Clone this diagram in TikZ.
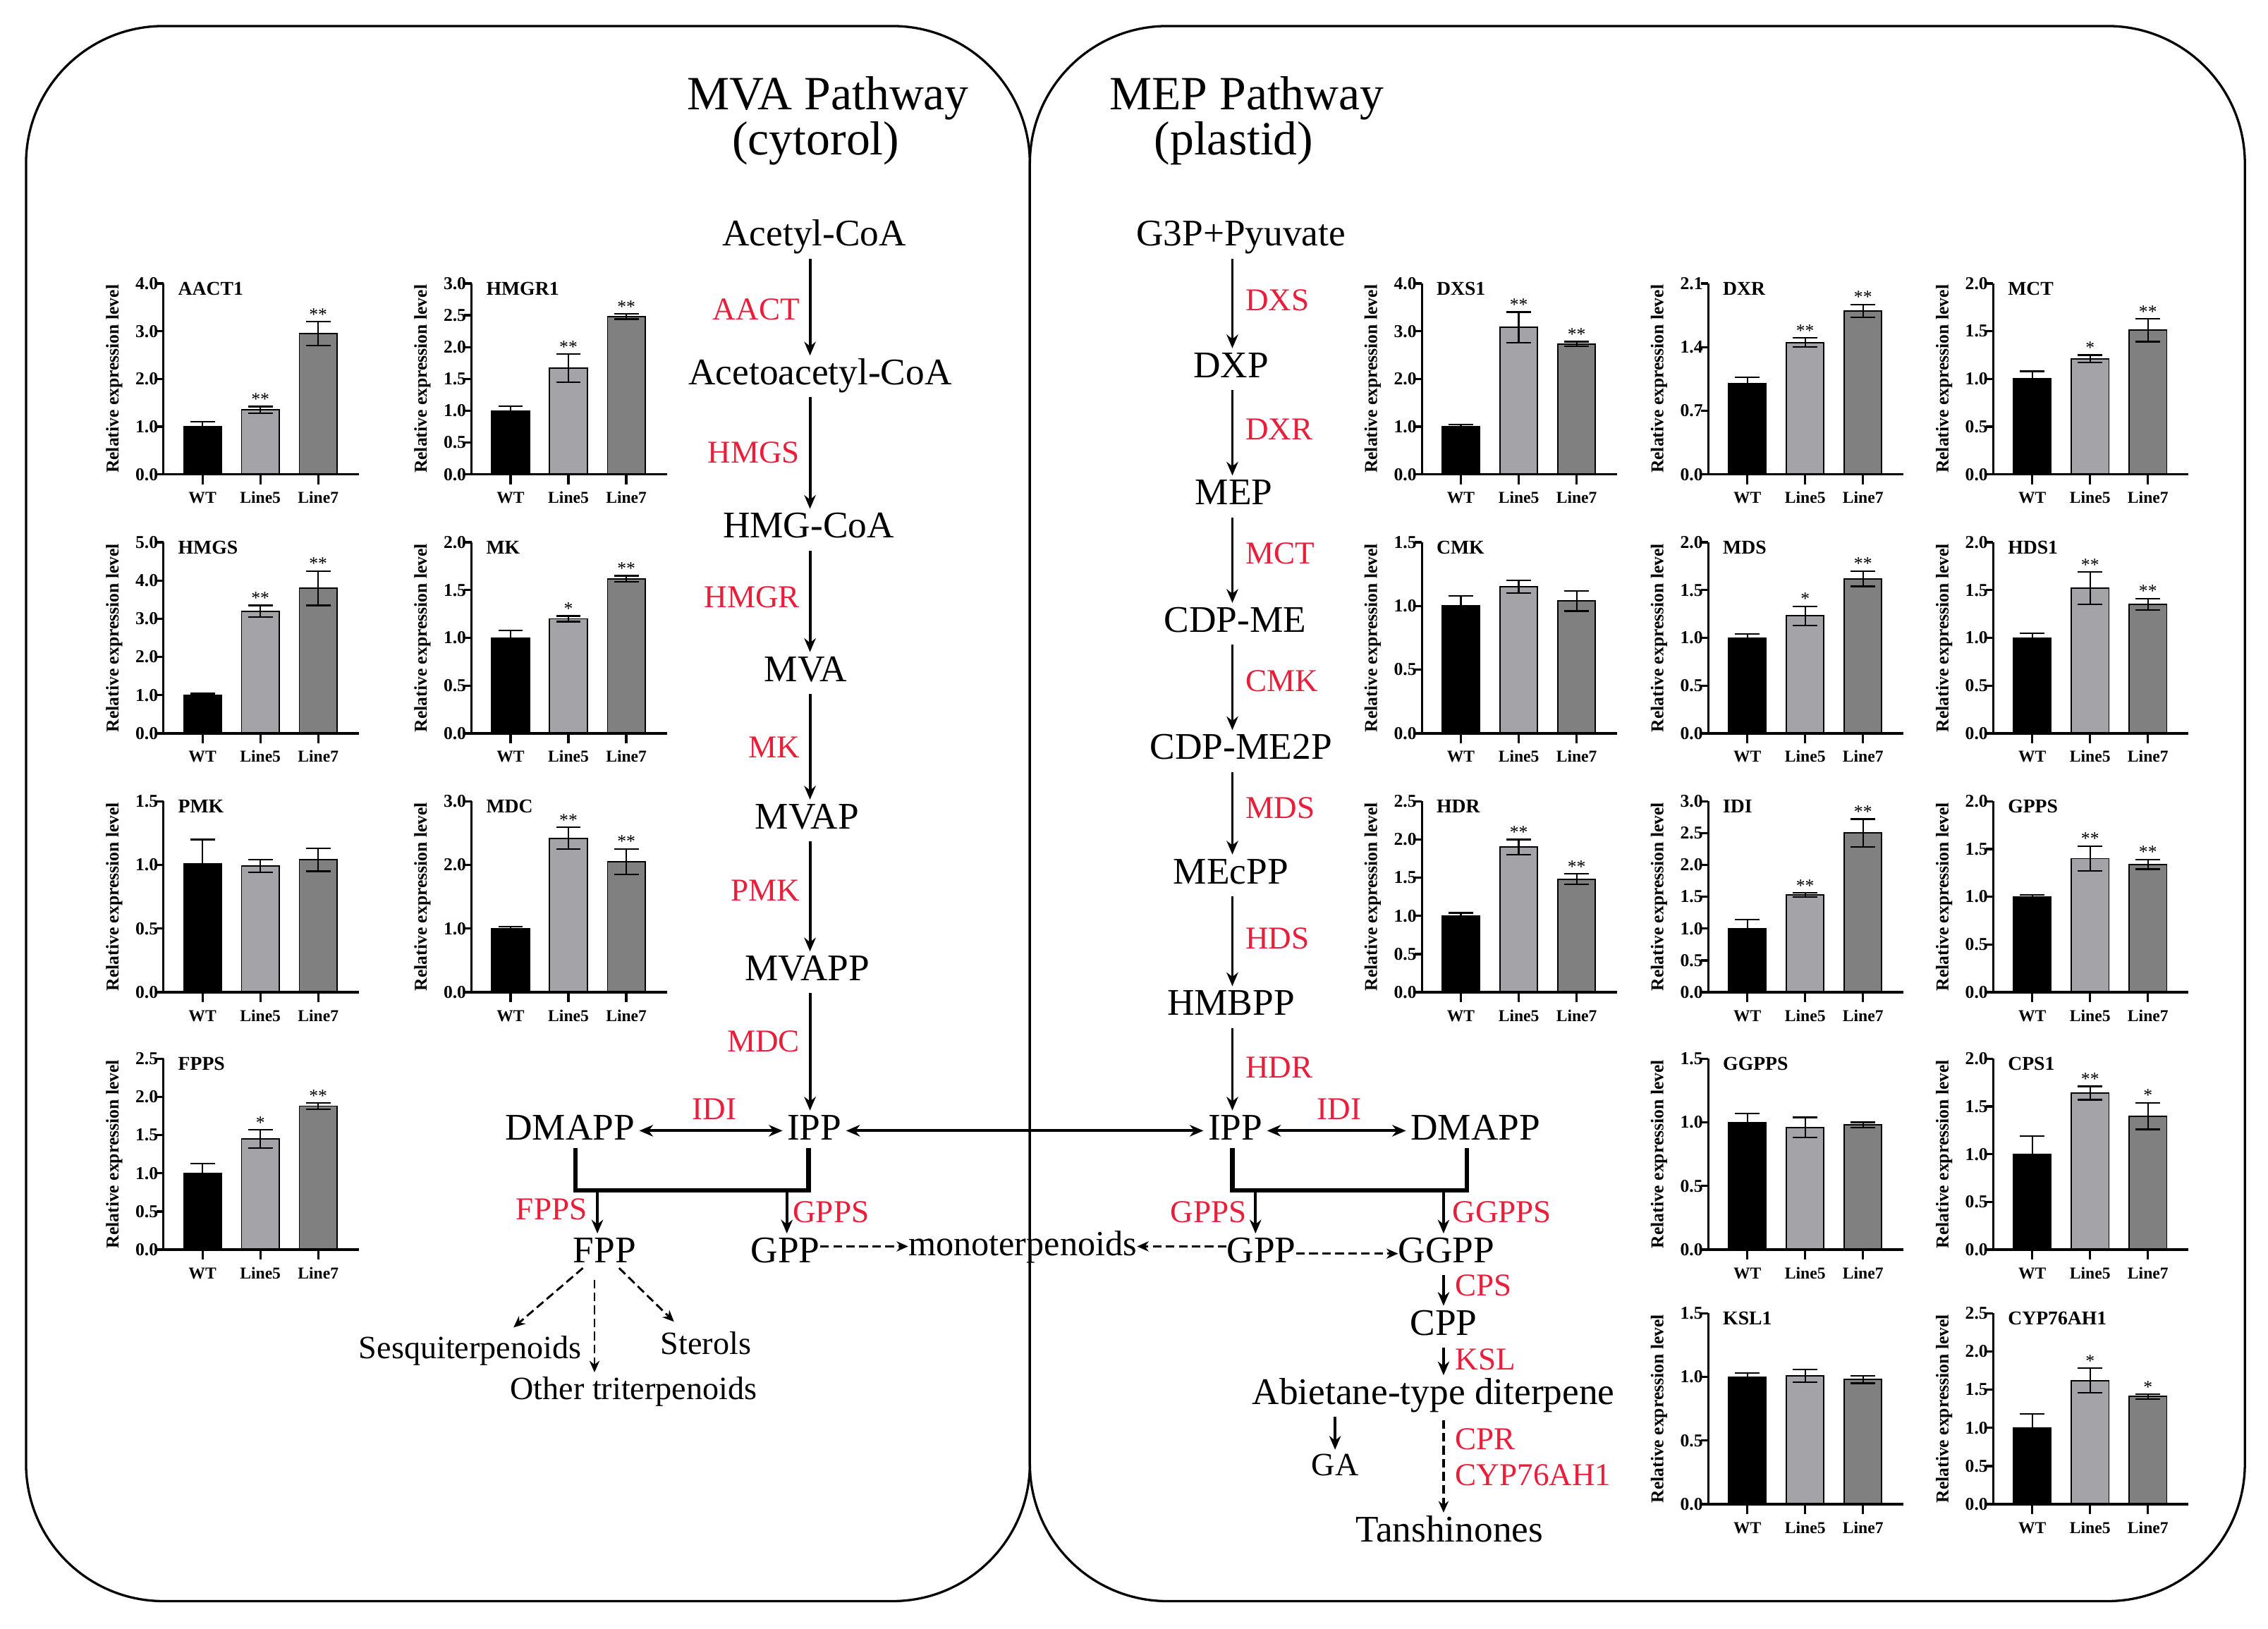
\documentclass[tikz,border=0pt]{standalone}
\usepackage{fontspec}
\setmainfont{Liberation Serif}
\usetikzlibrary{arrows.meta,calc}
\definecolor{enzred}{RGB}{233,30,58}
\definecolor{bar1}{RGB}{0,0,0}
\definecolor{bar2}{RGB}{163,163,168}
\definecolor{bar3}{RGB}{128,128,128}
\tikzset{
  met/.style={font=\fontsize{26}{30}\selectfont, inner sep=0pt, anchor=base, text height=18pt, text depth=5.5pt},
  met2/.style={font=\fontsize{22.5}{26}\selectfont, inner sep=0pt, anchor=base, text height=15.5pt, text depth=5pt},
  enz/.style={text=enzred, font=\fontsize{22}{26}\selectfont, inner sep=0pt},
  ttl/.style={font=\fontsize{33}{27}\selectfont, inner sep=0pt, anchor=base, align=center},
  arr/.style={-{Stealth[length=9.5pt,width=8pt]}, line width=1.9pt, shorten <=3pt, shorten >=2pt},
  darr/.style={{Stealth[length=9.5pt,width=8pt]}-{Stealth[length=9.5pt,width=8pt]}, line width=1.9pt, shorten <=3pt, shorten >=3pt},
  dsh/.style={-{Stealth[length=8pt,width=7pt]}, line width=1.6pt, dash pattern=on 6pt off 3pt},
  brk/.style={line width=3pt},
  panel/.style={line width=1.6pt, rounded corners=95pt},
  axisline/.style={line width=1.6pt},
  sig/.style={font=\fontsize{12.5}{12.5}\selectfont, anchor=base, inner sep=0pt},
  ticklab/.style={font=\bfseries\fontsize{12.5}{12.5}\selectfont, anchor=east, inner sep=0pt},
  catlab/.style={font=\bfseries\fontsize{11.5}{11.5}\selectfont, anchor=base, inner sep=0pt},
  charttitle/.style={font=\bfseries\fontsize{13.5}{13.5}\selectfont, anchor=base west, inner sep=0pt},
  ylab/.style={font=\bfseries\fontsize{12.5}{12.5}\selectfont, rotate=90, inner sep=0pt}
}
% #1 name, #2 axis x, #3 baseline y, #4 ymax, #5 ticks v/label, #6 bars i/value/err/star
\newcommand{\bchart}[6]{%
\begin{scope}[shift={(#2,#3)}]
\pgfmathsetmacro{\sc}{132/#4}
\foreach \i/\v/\e/\s in {#6}{%
  \pgfmathsetmacro{\cx}{27+40*(\i-1)}
  \pgfmathsetmacro{\hy}{\v*\sc}
  \pgfmathsetmacro{\ey}{\e*\sc}
  \filldraw[fill=bar\i, draw=black, line width=0.9pt] (\cx-13,0) rectangle (\cx+13,-\hy);
  \draw[line width=1.1pt] (\cx,-\hy+\ey) -- (\cx,-\hy-\ey)
     (\cx-8.5,-\hy-\ey) -- (\cx+8.5,-\hy-\ey)
     (\cx-8.5,-\hy+\ey) -- (\cx+8.5,-\hy+\ey);
  \node[sig] (#1-sig\i) at (\cx,-\hy-\ey-1) {\s};
  \draw[axisline] (\cx,0) -- (\cx,7);
}
\draw[axisline] (0,-132) -- (0,0) -- (135,0);
\foreach \v/\l [count=\k] in {#5}{%
  \draw[axisline] (0,-\v*\sc) -- (-5,-\v*\sc);
  \node[ticklab] (#1-tick\k) at (-3.5,-\v*\sc) {\l};
}
\node[catlab] (#1-cat1) at (27,20) {WT};
\node[catlab] (#1-cat2) at (67,20) {Line5};
\node[catlab] (#1-cat3) at (107,20) {Line7};
\node[charttitle] (#1-title) at (10,-124) {#1};
\node[ylab] (#1-ylab) at (-34,-66) {Relative expression level};
\end{scope}}

\begin{document}
\begin{tikzpicture}[x=1pt,y=-1pt]
\useasboundingbox (0,0) rectangle (1568,1126);

% panels
\draw[panel] (18,18) rectangle (712,1107);
\draw[panel] (712,18) rectangle (1552,1107);

% titles
\node[ttl] (mvaT) at (572.5,107) {MVA Pathway\\(cytorol)\hspace*{17pt}};
\node[ttl] (mepT) at (862,107) {MEP Pathway\\(plastid)\hspace*{18pt}};

% ---------- MVA pathway ----------
\coordinate (colA) at (560,0);
\node[met] (acetyl) at (563,170) {Acetyl-CoA};
\node[met] (acac) at (567,266) {Acetoacetyl-CoA};
\node[met] (hmgcoa) at (559,372) {HMG-CoA};
\node[met] (mva) at (557,471) {MVA};
\node[met] (mvap) at (558,573) {MVAP};
\node[met] (mvapp) at (558,678) {MVAPP};
\node[met] (ippL) at (563,788) {IPP};
\node[met] (dmappL) at (394,788) {DMAPP};
\node[met] (fpp) at (418,873) {FPP};
\node[met] (gppL) at (543,873) {GPP};
\node[met, font=\fontsize{24.5}{28}\selectfont] (mono) at (707,868) {monoterpenoids};
\node[met2] (sesq) at (325,939.5) {Sesquiterpenoids};
\node[met2] (sterols) at (488,936.5) {Sterols};
\node[met2] (othert) at (438,967.5) {Other triterpenoids};

\node[enz, anchor=base east] (eAACT) at (553,221) {AACT};
\node[enz, anchor=base east] (eHMGS) at (553,320) {HMGS};
\node[enz, anchor=base east] (eHMGR) at (553,420) {HMGR};
\node[enz, anchor=base east] (eMK) at (553,524) {MK};
\node[enz, anchor=base east] (ePMK) at (553,623) {PMK};
\node[enz, anchor=base east] (eMDC) at (553,727) {MDC};
\node[enz, anchor=base] (eIDIL) at (494,774) {IDI};
\node[enz, anchor=base east] (eFPPS) at (406,843) {FPPS};
\node[enz, anchor=base west] (eGPPSL) at (548,845) {GPPS};

\draw[arr] (acetyl.south -| colA) -- (acac.north -| colA);
\draw[arr] (acac.south -| colA) -- (hmgcoa.north -| colA);
\draw[arr] (hmgcoa.south -| colA) -- (mva.north -| colA);
\draw[arr] (mva.south -| colA) -- (mvap.north -| colA);
\draw[arr] (mvap.south -| colA) -- (mvapp.north -| colA);
\draw[arr] (mvapp.south -| colA) -- (ippL.north -| colA);
\draw[darr, yshift=2.5pt] (dmappL.east) -- (ippL.west);

\coordinate (bl1) at (398,823);
\coordinate (bl2) at (559,823);
\draw[brk] (dmappL.south -| bl1) -- (bl1) -- (bl2) -- (ippL.south -| bl2);
\coordinate (fa) at (413,823);
\coordinate (gaL) at (544,823);
\draw[arr, shorten <=0pt] (fa) -- (fpp.north -| fa);
\draw[arr, shorten <=0pt] (gaL) -- (gppL.north -| gaL);
\draw[dsh] (gppL.east |- mono.west) -- (mono.west);

\draw[dsh, line width=1.4pt] ($(fpp.south)+(-15,-2)$) -- ($(sesq.north)+(30,-6)$);
\draw[dsh, line width=1.4pt] ($(fpp.south)+(-7,6)$) -- ($(othert.north)+(-27,-3)$);
\draw[dsh, line width=1.4pt] ($(fpp.south)+(10,-2)$) -- ($(sterols.north)+(-22,-7)$);

% ---------- MEP pathway ----------
\coordinate (colB) at (852,0);
\coordinate (colG) at (998,0);
\coordinate (colGA) at (923,0);
\node[met] (g3p) at (858,170) {G3P+Pyuvate};
\node[met] (dxp) at (851,261) {DXP};
\node[met] (mep) at (853,349) {MEP};
\node[met] (cdpme) at (854,437) {CDP-ME};
\node[met] (cdpme2p) at (858,525) {CDP-ME2P};
\node[met] (mecpp) at (851,611) {MEcPP};
\node[met] (hmbpp) at (851,702) {HMBPP};
\node[met] (ippR) at (854,788) {IPP};
\node[met] (dmappR) at (1020,788) {DMAPP};
\node[met] (gppR) at (872,873) {GPP};
\node[met] (ggpp) at (1000,873) {GGPP};
\node[met] (cpp) at (998,923) {CPP};
\node[met] (abiet) at (991,971) {Abietane-type diterpene};
\node[met2] (ga) at (923,1020) {GA};
\node[met] (tansh) at (1002,1066) {Tanshinones};

\node[enz, anchor=base west] (eDXS) at (861,215) {DXS};
\node[enz, anchor=base west] (eDXR) at (861,304) {DXR};
\node[enz, anchor=base west] (eMCT) at (861,390) {MCT};
\node[enz, anchor=base west] (eCMK) at (861,478) {CMK};
\node[enz, anchor=base west] (eMDS) at (861,566) {MDS};
\node[enz, anchor=base west] (eHDS) at (861,656) {HDS};
\node[enz, anchor=base west] (eHDR) at (861,745) {HDR};
\node[enz, anchor=base] (eIDIR) at (926,774) {IDI};
\node[enz, anchor=base east] (eGPPSR) at (862,845) {GPPS};
\node[enz, anchor=base west] (eGGPPS) at (1004,845) {GGPPS};
\node[enz, anchor=base west] (eCPS) at (1006,896) {CPS};
\node[enz, anchor=base west] (eKSL) at (1006,947) {KSL};
\node[enz, anchor=base west] (eCPR) at (1006,1002) {CPR};
\node[enz, anchor=base west] (eCYP) at (1006,1027) {CYP76AH1};

\draw[darr, yshift=2.5pt] (ippL.east) -- (ippR.west);
\draw[arr] (g3p.south -| colB) -- (dxp.north -| colB);
\draw[arr] (dxp.south -| colB) -- (mep.north -| colB);
\draw[arr] (mep.south -| colB) -- (cdpme.north -| colB);
\draw[arr] (cdpme.south -| colB) -- (cdpme2p.north -| colB);
\draw[arr] (cdpme2p.south -| colB) -- (mecpp.north -| colB);
\draw[arr] (mecpp.south -| colB) -- (hmbpp.north -| colB);
\draw[arr] (hmbpp.south -| colB) -- (ippR.north -| colB);
\draw[darr, yshift=2.5pt] (ippR.east) -- (dmappR.west);

\coordinate (br1) at (852,823);
\coordinate (br2) at (1014,823);
\draw[brk] (ippR.south -| br1) -- (br1) -- (br2) -- (dmappR.south -| br2);
\coordinate (gb) at (868,823);
\coordinate (ggb) at (998,823);
\draw[arr, shorten <=0pt] (gb) -- (gppR.north -| gb);
\draw[arr, shorten <=0pt] (ggb) -- (ggpp.north -| ggb);
\draw[dsh] (gppR.west |- mono.east) -- (mono.east);
\draw[dsh] (gppR.east) -- (ggpp.west);

\draw[arr] (ggpp.south -| colG) -- (cpp.north -| colG);
\draw[arr] (cpp.south -| colG) -- (abiet.north -| colG);
\draw[arr] (abiet.south -| colGA) -- (ga.north);
\draw[dsh, shorten <=5pt, shorten >=2pt] (abiet.south -| colG) -- (tansh.north -| colG);

% ---------- bar charts ----------
\bchart{AACT1}{113}{328}{4}{0/0.0,1/1.0,2/2.0,3/3.0,4/4.0}{1/1.0/0.1/{},2/1.35/0.07/**,3/2.95/0.25/**}
\bchart{HMGR1}{326}{328}{3}{0/0.0,0.5/0.5,1/1.0,1.5/1.5,2/2.0,2.5/2.5,3/3.0}{1/1.0/0.07/{},2/1.67/0.22/**,3/2.48/0.04/**}
\bchart{HMGS}{113}{507}{5}{0/0.0,1/1.0,2/2.0,3/3.0,4/4.0,5/5.0}{1/1.0/0.04/{},2/3.2/0.15/**,3/3.8/0.45/**}
\bchart{MK}{326}{507}{2}{0/0.0,0.5/0.5,1/1.0,1.5/1.5,2/2.0}{1/1.0/0.08/{},2/1.2/0.03/*,3/1.62/0.03/**}
\bchart{PMK}{113}{686}{1.5}{0/0.0,0.5/0.5,1/1.0,1.5/1.5}{1/1.01/0.19/{},2/0.99/0.05/{},3/1.04/0.09/{}}
\bchart{MDC}{326}{686}{3}{0/0.0,1/1.0,2/2.0,3/3.0}{1/1.0/0.03/{},2/2.42/0.17/**,3/2.05/0.2/**}
\bchart{FPPS}{113}{864}{2.5}{0/0.0,0.5/0.5,1/1.0,1.5/1.5,2/2.0,2.5/2.5}{1/1.0/0.13/{},2/1.45/0.12/*,3/1.88/0.04/**}

\bchart{DXS1}{983}{328}{4}{0/0.0,1/1.0,2/2.0,3/3.0,4/4.0}{1/1.0/0.05/{},2/3.08/0.32/**,3/2.73/0.05/**}
\bchart{DXR}{1181}{328}{2.1}{0/0.0,0.7/0.7,1.4/1.4,2.1/2.1}{1/1.0/0.07/{},2/1.45/0.05/**,3/1.8/0.07/**}
\bchart{MCT}{1378}{328}{2}{0/0.0,0.5/0.5,1/1.0,1.5/1.5,2/2.0}{1/1.0/0.08/{},2/1.21/0.04/*,3/1.51/0.12/**}
\bchart{CMK}{983}{507}{1.5}{0/0.0,0.5/0.5,1/1.0,1.5/1.5}{1/1.0/0.08/{},2/1.15/0.05/{},3/1.04/0.08/{}}
\bchart{MDS}{1181}{507}{2}{0/0.0,0.5/0.5,1/1.0,1.5/1.5,2/2.0}{1/1.0/0.04/{},2/1.23/0.1/*,3/1.62/0.08/**}
\bchart{HDS1}{1378}{507}{2}{0/0.0,0.5/0.5,1/1.0,1.5/1.5,2/2.0}{1/1.0/0.05/{},2/1.52/0.17/**,3/1.35/0.06/**}
\bchart{HDR}{983}{686}{2.5}{0/0.0,0.5/0.5,1/1.0,1.5/1.5,2/2.0,2.5/2.5}{1/1.0/0.04/{},2/1.9/0.1/**,3/1.48/0.07/**}
\bchart{IDI}{1181}{686}{3}{0/0.0,0.5/0.5,1/1.0,1.5/1.5,2/2.0,2.5/2.5,3/3.0}{1/1.0/0.14/{},2/1.53/0.03/**,3/2.5/0.22/**}
\bchart{GPPS}{1378}{686}{2}{0/0.0,0.5/0.5,1/1.0,1.5/1.5,2/2.0}{1/1.0/0.02/{},2/1.4/0.13/**,3/1.34/0.05/**}
\bchart{GGPPS}{1181}{864}{1.5}{0/0.0,0.5/0.5,1/1.0,1.5/1.5}{1/1.0/0.07/{},2/0.96/0.08/{},3/0.98/0.02/{}}
\bchart{CPS1}{1378}{864}{2}{0/0.0,0.5/0.5,1/1.0,1.5/1.5,2/2.0}{1/1.0/0.19/{},2/1.64/0.07/**,3/1.4/0.14/*}
\bchart{KSL1}{1181}{1040}{1.5}{0/0.0,0.5/0.5,1/1.0,1.5/1.5}{1/1.0/0.03/{},2/1.01/0.05/{},3/0.98/0.03/{}}
\bchart{CYP76AH1}{1378}{1040}{2.5}{0/0.0,0.5/0.5,1/1.0,1.5/1.5,2/2.0,2.5/2.5}{1/1.0/0.18/{},2/1.62/0.16/*,3/1.41/0.03/*}

\end{tikzpicture}
\end{document}
